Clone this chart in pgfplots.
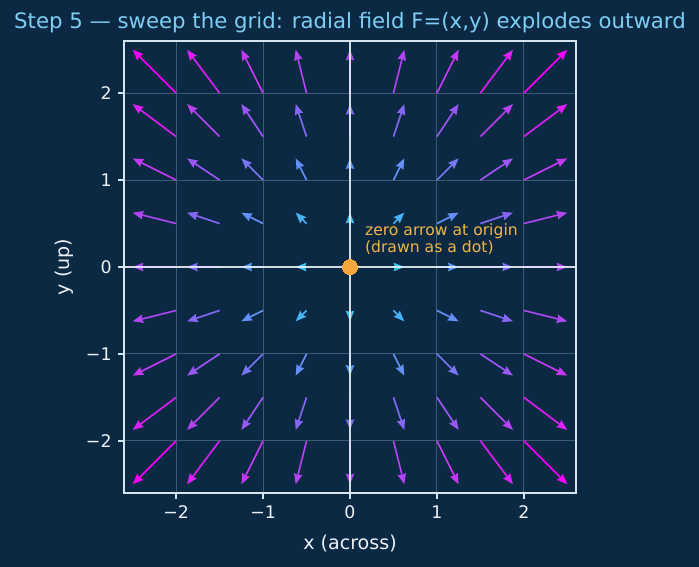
\documentclass[border=0pt]{standalone}
\usepackage{fontspec}
\setmainfont{DejaVu Sans}
\usepackage{pgfplots}
\usepackage{pgfplotstable}
\pgfplotsset{compat=1.18}
\usetikzlibrary{arrows.meta}

\definecolor{bg}{RGB}{11,41,66}
\definecolor{titlecol}{RGB}{125,206,245}
\definecolor{fg}{RGB}{236,242,248}
\definecolor{spine}{RGB}{214,228,240}
\definecolor{gridcol}{RGB}{58,90,118}
\definecolor{dotcol}{RGB}{247,168,60}
\definecolor{notecol}{RGB}{242,180,70}

% sample points of F(x,y) = (x,y), drawn at a quarter of their length
\pgfplotstableread{
x y u v
-2 2 -0.5 0.5
-1.5 2 -0.375 0.5
-1 2 -0.25 0.5
-0.5 2 -0.125 0.5
0 2 0 0.5
0.5 2 0.125 0.5
1 2 0.25 0.5
1.5 2 0.375 0.5
2 2 0.5 0.5
-2 1.5 -0.5 0.375
-1.5 1.5 -0.375 0.375
-1 1.5 -0.25 0.375
-0.5 1.5 -0.125 0.375
0 1.5 0 0.375
0.5 1.5 0.125 0.375
1 1.5 0.25 0.375
1.5 1.5 0.375 0.375
2 1.5 0.5 0.375
-2 1 -0.5 0.25
-1.5 1 -0.375 0.25
-1 1 -0.25 0.25
-0.5 1 -0.125 0.25
0 1 0 0.25
0.5 1 0.125 0.25
1 1 0.25 0.25
1.5 1 0.375 0.25
2 1 0.5 0.25
-2 0.5 -0.5 0.125
-1.5 0.5 -0.375 0.125
-1 0.5 -0.25 0.125
-0.5 0.5 -0.125 0.125
0 0.5 0 0.125
0.5 0.5 0.125 0.125
1 0.5 0.25 0.125
1.5 0.5 0.375 0.125
2 0.5 0.5 0.125
-2 0 -0.5 0
-1.5 0 -0.375 0
-1 0 -0.25 0
-0.5 0 -0.125 0
0.5 0 0.125 0
1 0 0.25 0
1.5 0 0.375 0
2 0 0.5 0
-2 -0.5 -0.5 -0.125
-1.5 -0.5 -0.375 -0.125
-1 -0.5 -0.25 -0.125
-0.5 -0.5 -0.125 -0.125
0 -0.5 0 -0.125
0.5 -0.5 0.125 -0.125
1 -0.5 0.25 -0.125
1.5 -0.5 0.375 -0.125
2 -0.5 0.5 -0.125
-2 -1 -0.5 -0.25
-1.5 -1 -0.375 -0.25
-1 -1 -0.25 -0.25
-0.5 -1 -0.125 -0.25
0 -1 0 -0.25
0.5 -1 0.125 -0.25
1 -1 0.25 -0.25
1.5 -1 0.375 -0.25
2 -1 0.5 -0.25
-2 -1.5 -0.5 -0.375
-1.5 -1.5 -0.375 -0.375
-1 -1.5 -0.25 -0.375
-0.5 -1.5 -0.125 -0.375
0 -1.5 0 -0.375
0.5 -1.5 0.125 -0.375
1 -1.5 0.25 -0.375
1.5 -1.5 0.375 -0.375
2 -1.5 0.5 -0.375
-2 -2 -0.5 -0.5
-1.5 -2 -0.375 -0.5
-1 -2 -0.25 -0.5
-0.5 -2 -0.125 -0.5
0 -2 0 -0.5
0.5 -2 0.125 -0.5
1 -2 0.25 -0.5
1.5 -2 0.375 -0.5
2 -2 0.5 -0.5
}\fieldtable

\begin{document}
\begin{tikzpicture}
\fill[bg] (0,0) rectangle (503.28pt,408.24pt);
\begin{axis}[
  at={(89.28pt,53.28pt)}, anchor=south west,
  scale only axis, width=325.44pt, height=325.44pt,
  xmin=-2.6, xmax=2.6, ymin=-2.6, ymax=2.6,
  xtick={-2,-1,0,1,2}, ytick={-2,-1,0,1,2},
  xticklabels={−2,−1,0,1,2}, yticklabels={−2,−1,0,1,2},
  tick align=outside, xtick pos=bottom, ytick pos=left,
  major tick length=4.4pt,
  every tick/.style={draw=spine, line width=1pt},
  tick label style={text=fg, font=\fontsize{12.5}{15}\selectfont},
  xticklabel style={yshift=-1pt},
  yticklabel style={xshift=-1pt},
  axis line style={draw=spine, line width=1.25pt},
  grid=major,
  major grid style={draw=gridcol, line width=0.75pt},
  axis background/.style={fill=bg},
  xlabel={x (across)}, ylabel={y (up)},
  label style={text=fg, font=\fontsize{13.75}{16}\selectfont},
  xlabel style={at={(axis description cs:0.5,-0.111)}, anchor=center},
  ylabel style={at={(axis description cs:-0.133,0.5)}, anchor=center},
  title={Step 5 — sweep the grid: radial field F=(x,y) explodes outward},
  title style={text=titlecol, font=\fontsize{15.3}{18}\selectfont,
    at={(axis description cs:0.5,1.022)}, anchor=center},
  colormap={arrowmap}{rgb255(0cm)=(58,196,245); rgb255(1cm)=(96,146,246);
    rgb255(2cm)=(140,96,244); rgb255(3cm)=(196,56,242); rgb255(4cm)=(255,0,255)},
  point meta min=0.125, point meta max=0.7071,
  clip=false,
]
\addplot[
  quiver={u=\thisrow{u}, v=\thisrow{v},
    every arrow/.append style={draw=mapped color, line width=1.2pt,
      -{Stealth[length=7.6pt, width=6pt, inset=0.8pt, fill=mapped color]}}},
  point meta={sqrt((\thisrow{u})^2+(\thisrow{v})^2)},
] table[x=x, y=y] {\fieldtable};
% axes through the origin
\addplot[draw=fg, draw opacity=0.85, line width=1.5pt] coordinates {(-2.6,0) (2.6,0)};
\addplot[draw=fg, draw opacity=0.85, line width=1.5pt] coordinates {(0,-2.6) (0,2.6)};
% the zero vector at the origin
\addplot[only marks, mark=*, mark size=5.4pt, color=dotcol, mark options={fill=dotcol, draw=dotcol, line width=0pt}] coordinates {(0,0)};
\node[anchor=south west, inner sep=0pt, align=left, text=notecol,
  font=\fontsize{11.25}{12.3}\selectfont] at (axis cs:0.17,0.14)
  {zero arrow at origin\\(drawn as a dot)};
\end{axis}
\end{tikzpicture}
\end{document}
